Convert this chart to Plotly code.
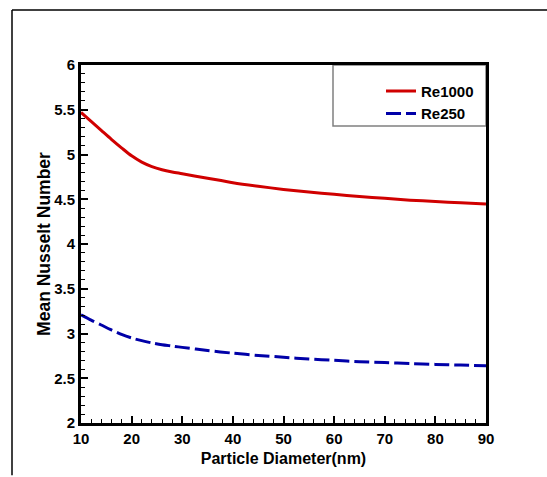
import plotly.graph_objects as go

diam_re1000 = [10, 12, 14, 16, 18, 20, 22, 24, 26, 28, 30, 35, 40, 45, 50, 55, 60, 65, 70, 75, 80, 85, 90]
nu_re1000 = [5.47, 5.37, 5.27, 5.17, 5.075, 4.985, 4.915, 4.865, 4.83, 4.805, 4.785, 4.735, 4.685,
             4.645, 4.61, 4.58, 4.555, 4.53, 4.51, 4.49, 4.475, 4.46, 4.447]
diam_re250 = [10, 12, 14, 16, 18, 20, 22, 24, 26, 28, 30, 35, 40, 45, 50, 55, 60, 65, 70, 75, 80, 85, 90]
nu_re250 = [3.21, 3.15, 3.095, 3.04, 2.99, 2.95, 2.92, 2.895, 2.875, 2.86, 2.845, 2.81, 2.78, 2.755,
            2.735, 2.715, 2.70, 2.685, 2.675, 2.665, 2.655, 2.647, 2.64]

x_ticks = [10, 20, 30, 40, 50, 60, 70, 80, 90]
y_ticks = [2, 2.5, 3, 3.5, 4, 4.5, 5, 5.5, 6]
y_tick_labels = ["2", "2.5", "3", "3.5", "4", "4.5", "5", "5.5", "6"]

FONT = "Liberation Sans, Arial, sans-serif"

fig = go.Figure()
fig.add_trace(go.Scatter(x=diam_re1000, y=nu_re1000, mode="lines", name="Re1000",
                         line=dict(color="#d00000", width=3, shape="spline", smoothing=0.8)))
fig.add_trace(go.Scatter(x=diam_re250, y=nu_re250, mode="lines", name="Re250",
                         line=dict(color="#0000a8", width=3, dash="15px,5px", shape="spline", smoothing=0.8)))

W, H = 547, 477
L, R, T, B = 81, 486, 65, 429
pw, ph = R - L, B - T

def px(xp):
    return (xp - L) / pw

def py(yp):
    return (B - yp) / ph

shapes = [
    # outer frame (top and left)
    dict(type="line", xref="paper", yref="paper", x0=px(12), x1=px(W + 5), y0=py(9), y1=py(9),
         line=dict(color="black", width=1.5)),
    dict(type="line", xref="paper", yref="paper", x0=px(12), x1=px(12), y0=py(9), y1=py(H + 5),
         line=dict(color="black", width=1.5)),
    # legend box
    dict(type="rect", xref="paper", yref="paper", x0=px(333), x1=1, y0=py(127), y1=1,
         line=dict(color="#808080", width=1.5), fillcolor="rgba(0,0,0,0)", layer="below"),
]

fig.update_layout(
    width=W, height=H,
    margin=dict(l=L, r=W - R, t=T, b=H - B),
    paper_bgcolor="white", plot_bgcolor="white",
    font=dict(family=FONT, color="black", size=15),
    showlegend=True,
    legend=dict(x=px(381), y=py(75), xanchor="left", yanchor="top",
                bgcolor="rgba(0,0,0,0)", borderwidth=0,
                font=dict(family=FONT, size=15, color="black", weight="bold"),
                tracegroupgap=0),
    shapes=shapes,
    xaxis=dict(range=[10, 90], tickvals=x_ticks, ticktext=[str(v) for v in x_ticks],
               ticks="inside", ticklen=7, tickwidth=2, tickcolor="black",
               showline=True, linewidth=3, linecolor="black", mirror=True,
               showgrid=False, zeroline=False,
               tickfont=dict(family=FONT, size=15, weight="bold"),
               minor=dict(dtick=2, ticks="inside", ticklen=4, tickwidth=1, tickcolor="black", showgrid=False),
               title=dict(text="Particle Diameter(nm)", standoff=7,
                          font=dict(family=FONT, size=16, weight="bold"))),
    yaxis=dict(range=[2, 6], tickvals=y_ticks, ticktext=y_tick_labels,
               ticks="inside", ticklen=7, tickwidth=2, tickcolor="black",
               showline=True, linewidth=3, linecolor="black", mirror=True,
               showgrid=False, zeroline=False,
               tickfont=dict(family=FONT, size=15, weight="bold"),
               minor=dict(dtick=0.1, ticks="inside", ticklen=4, tickwidth=1, tickcolor="black", showgrid=False),
               title=dict(text="Mean Nusselt Number", standoff=0,
                          font=dict(family=FONT, size=17.5, weight="bold"))),
)

fig.write_html("out.html")
